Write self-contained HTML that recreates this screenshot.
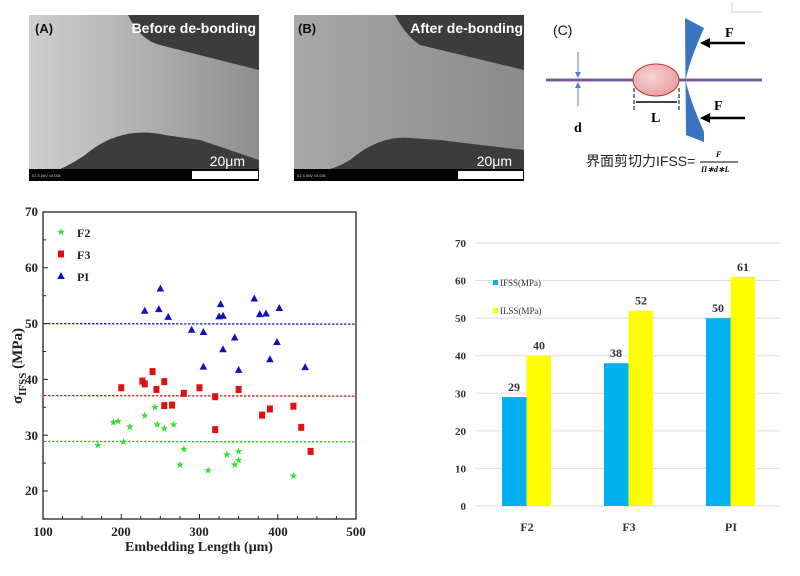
<!DOCTYPE html>
<html><head><meta charset="utf-8"><style>
html,body{margin:0;padding:0;background:#fff}
svg{display:block}
</style></head><body>
<svg id="s" width="800" height="576" viewBox="0 0 800 576" xmlns="http://www.w3.org/2000/svg" font-family="Liberation Serif, serif">
<defs>
<linearGradient id="ga" x1="0" x2="1" y1="0" y2="0"><stop offset="0" stop-color="#cfcfcf"/><stop offset="0.45" stop-color="#b3b3b3"/><stop offset="1" stop-color="#8e8e8e"/></linearGradient>
<linearGradient id="gb" x1="0" x2="1" y1="0" y2="0"><stop offset="0" stop-color="#a8a8a8"/><stop offset="1" stop-color="#8a8a8a"/></linearGradient>
<radialGradient id="gc" cx="0.4" cy="0.4" r="0.7"><stop offset="0" stop-color="#f6d4d4"/><stop offset="1" stop-color="#e89a9a"/></radialGradient>
</defs>
<!-- SEM A -->
<rect x="29" y="15" width="230" height="166" fill="#3c3c3c"/>
<path d="M29 15 H128 Q140 40 160 45 L259 70 V160 Q230 150 200 140 L165 135 Q120 125 85 155 Q70 165 60 169 H29 Z" fill="url(#ga)"/>
<rect x="29" y="169" width="230" height="12" fill="#000"/>
<rect x="192" y="171" width="66" height="8" fill="#fff"/>
<text x="32" y="177" font-family="Liberation Sans, sans-serif" font-size="4" fill="#ccc">01 5.0kV x3.00k</text>
<text x="35" y="33" font-family="Liberation Sans, sans-serif" font-size="13" font-weight="bold" fill="#111">(A)</text>
<text x="256" y="33" text-anchor="end" font-family="Liberation Sans, sans-serif" font-size="14" font-weight="bold" fill="#fff">Before de-bonding</text>
<text x="245" y="166" text-anchor="end" font-family="Liberation Sans, sans-serif" font-size="14" fill="#fff">20μm</text>
<!-- SEM B -->
<rect x="294" y="15" width="230" height="166" fill="#3c3c3c"/>
<path d="M294 15 H395 Q405 35 420 45 L524 70 V150 Q480 145 440 140 L410 138 Q380 135 350 160 Q340 166 330 169 H294 Z" fill="url(#gb)"/>
<rect x="294" y="169" width="230" height="12" fill="#000"/>
<rect x="458" y="171" width="65" height="8" fill="#fff"/>
<text x="297" y="177" font-family="Liberation Sans, sans-serif" font-size="4" fill="#ccc">01 5.0kV x3.00k</text>
<text x="298" y="33" font-family="Liberation Sans, sans-serif" font-size="13" font-weight="bold" fill="#111">(B)</text>
<text x="523" y="33" text-anchor="end" font-family="Liberation Sans, sans-serif" font-size="14" font-weight="bold" fill="#fff">After de-bonding</text>
<text x="512" y="166" text-anchor="end" font-family="Liberation Sans, sans-serif" font-size="14" fill="#fff">20μm</text>
<!-- C diagram -->
<path d="M732 3 V12 H762" fill="none" stroke="#ccc"/>
<text x="553" y="35" font-family="Liberation Sans, sans-serif" font-size="14" fill="#111">(C)</text>
<line x1="546" y1="80" x2="762" y2="80" stroke="#7a5a9a" stroke-width="3"/>
<ellipse cx="656" cy="80" rx="23" ry="16" fill="url(#gc)" stroke="#b33" stroke-width="1"/>
<path d="M685 18 L704 28 Q690 60 686 78 L686 82 Q690 100 704 132 L704 142 L686 135 Z" fill="#3a74c0"/>
<line x1="578" y1="52" x2="578" y2="76" stroke="#4a86d0"/><path d="M575 72 L578 78 L581 72Z" fill="#4a86d0"/>
<line x1="578" y1="84" x2="578" y2="106" stroke="#4a86d0"/><path d="M575 88 L578 82 L581 88Z" fill="#4a86d0"/>
<text x="574" y="132" font-size="14" font-weight="bold">d</text>
<line x1="634" y1="88" x2="634" y2="112" stroke="#000" stroke-dasharray="4,2"/>
<line x1="679" y1="88" x2="679" y2="112" stroke="#000" stroke-dasharray="4,2"/>
<line x1="636" y1="102" x2="677" y2="102" stroke="#000" stroke-width="1.5"/>
<text x="651" y="122" font-size="14" font-weight="bold">L</text>
<line x1="708" y1="43" x2="745" y2="43" stroke="#000" stroke-width="2.5"/><path d="M700 43 L710 38 L710 48Z"/>
<text x="725" y="37" font-size="14" font-weight="bold">F</text>
<line x1="708" y1="118" x2="745" y2="118" stroke="#000" stroke-width="2.5"/><path d="M700 118 L710 113 L710 123Z"/>
<text x="714" y="110" font-size="14" font-weight="bold">F</text>
<text x="586" y="166" font-family="Liberation Sans, 'Noto Sans CJK SC', sans-serif" font-size="14" fill="#222">界面剪切力IFSS=</text>
<line x1="700" y1="162" x2="738" y2="162" stroke="#000"/>
<text x="716" y="157" font-size="8" font-style="italic" font-weight="bold">F</text>
<text x="701" y="172" font-size="8" font-style="italic" font-weight="bold">Π∗d∗L</text>
<!-- Scatter -->
<g id="sc">
<rect x="43" y="212" width="313" height="307" fill="none" stroke="#222" stroke-width="1.3"/>
<g font-size="13" font-weight="bold" fill="#222">
<text x="38" y="216" text-anchor="end">70</text>
<text x="38" y="272" text-anchor="end">60</text>
<text x="38" y="328" text-anchor="end">50</text>
<text x="38" y="384" text-anchor="end">40</text>
<text x="38" y="440" text-anchor="end">30</text>
<text x="38" y="495" text-anchor="end">20</text>
<text x="43" y="536" text-anchor="middle">100</text>
<text x="121" y="536" text-anchor="middle">200</text>
<text x="199" y="536" text-anchor="middle">300</text>
<text x="278" y="536" text-anchor="middle">400</text>
<text x="356" y="536" text-anchor="middle">500</text>
<text x="199" y="551" text-anchor="middle" font-size="14">Embedding Length (μm)</text>
<text transform="translate(22 366) rotate(-90)" text-anchor="middle" font-size="15">σ<tspan font-size="11" dy="4">IFSS</tspan><tspan dy="-4"> (MPa)</tspan></text>
<text x="77" y="237" font-size="12">F2</text>
<text x="77" y="259" font-size="12">F3</text>
<text x="77" y="281" font-size="12">PI</text>
</g>
</g>
<!-- Bar chart -->
<g id="bc" font-size="11" fill="#333"></g>
</svg>
<script>
var s=document.getElementById('sc'),NS='http://www.w3.org/2000/svg';
function el(p,t,a){var e=document.createElementNS(NS,t);for(var k in a)e.setAttribute(k,a[k]);p.appendChild(e);return e;}
function X(v){return 43+(v-100)*0.7825}function Y(v){return 212+(70-v)*5.58}
// ticks
for(var v=100;v<=500;v+=25){var x=X(v),l=(v%100==0)?5:3;el(s,'line',{x1:x,x2:x,y1:519,y2:519-l,stroke:'#222'});}
for(var v=15;v<=70;v+=5){var y=Y(v),l=(v%10==0)?5:3;el(s,'line',{x1:43,x2:43+l,y1:y,y2:y,stroke:'#222'});}
[[50,'#1a1ab0'],[37.1,'#d01818'],[28.9,'#22cc22']].forEach(function(m){el(s,'line',{x1:44,x2:355,y1:Y(m[0]),y2:Y(m[0]+(m[0]==50?-0.1:-0.1)),stroke:m[1],'stroke-width':1.3,'stroke-dasharray':'2.5,1.5'});});
function star(x,y,c){var p='';for(var i=0;i<10;i++){var r=i%2?1.6:4,a=-Math.PI/2+i*Math.PI/5;p+=(x+r*Math.cos(a)).toFixed(1)+','+(y+r*Math.sin(a)).toFixed(1)+' ';}el(s,'polygon',{points:p,fill:c});}
function sq(x,y){el(s,'rect',{x:x-3,y:y-3.5,width:6,height:7,fill:'#e01010'});}
function tri(x,y){el(s,'polygon',{points:(x-3.8)+','+(y+3)+' '+(x+3.8)+','+(y+3)+' '+x+','+(y-4),fill:'#1010c0'});}
var F2=[[170,28.2],[190,32.3],[196,32.5],[203,28.8],[211,31.5],[230,33.5],[243,35],[246,31.9],[255,31.2],[267,31.9],[275,24.7],[280,27.5],[311,23.7],[335,26.5],[345,24.7],[350,25.5],[350,27.1],[420,22.7]];
var F3=[[200,38.5],[227,39.7],[230,39.2],[240,41.4],[245,38.2],[255,39.6],[255,35.3],[265,35.4],[280,37.5],[300,38.5],[320,36.9],[320,31],[350,38.2],[380,33.6],[390,34.7],[420,35.2],[430,31.4],[442,27.1]];
var PI=[[230,52.3],[248,52.6],[250,56.3],[260,51.2],[290,48.9],[305,48.5],[305,42.3],[325,51.3],[327,53.5],[330,51.4],[330,45.4],[345,47.5],[350,41.7],[370,54.5],[377,51.7],[385,51.8],[390,43.6],[399,46.7],[402,52.8],[435,42.2]];
F2.forEach(function(p){star(X(p[0]),Y(p[1]),'#33dd33')});
F3.forEach(function(p){sq(X(p[0]),Y(p[1]))});
PI.forEach(function(p){tri(X(p[0]),Y(p[1]))});
star(61,232,'#33dd33');sq(61,254);tri(61,276);
// bars
var b=document.getElementById('bc');
function BY(v){return 506-v*3.757}
for(var v=0;v<=70;v+=10){el(b,'line',{x1:475,x2:780,y1:BY(v),y2:BY(v),stroke:'#ddd'});var t=el(b,'text',{x:466,y:BY(v)+4,'text-anchor':'end','font-weight':'bold'});t.textContent=v;}
var g=[['F2',29,40,502],['F3',38,52,604],['PI',50,61,706]];
g.forEach(function(d){var x=d[3];
el(b,'rect',{x:x,y:BY(d[1]),width:24.5,height:d[1]*3.757,fill:'#00b0f0'});
el(b,'rect',{x:x+24.5,y:BY(d[2]),width:24.5,height:d[2]*3.757,fill:'#ffff00'});
var t=el(b,'text',{x:x+12,y:BY(d[1])-6,'text-anchor':'middle','font-weight':'bold','font-size':12});t.textContent=d[1];
t=el(b,'text',{x:x+37,y:BY(d[2])-6,'text-anchor':'middle','font-weight':'bold','font-size':12});t.textContent=d[2];
t=el(b,'text',{x:x+25,y:531,'text-anchor':'middle','font-weight':'bold','font-size':12});t.textContent=d[0];});
el(b,'rect',{x:493,y:280,width:5,height:5,fill:'#00b0f0'});
el(b,'rect',{x:493,y:308,width:5,height:5,fill:'#ffff00'});
var t=el(b,'text',{x:500,y:286,'font-size':9});t.textContent='IFSS(MPa)';
t=el(b,'text',{x:500,y:314,'font-size':9});t.textContent='ILSS(MPa)';
</script>
</body></html>
